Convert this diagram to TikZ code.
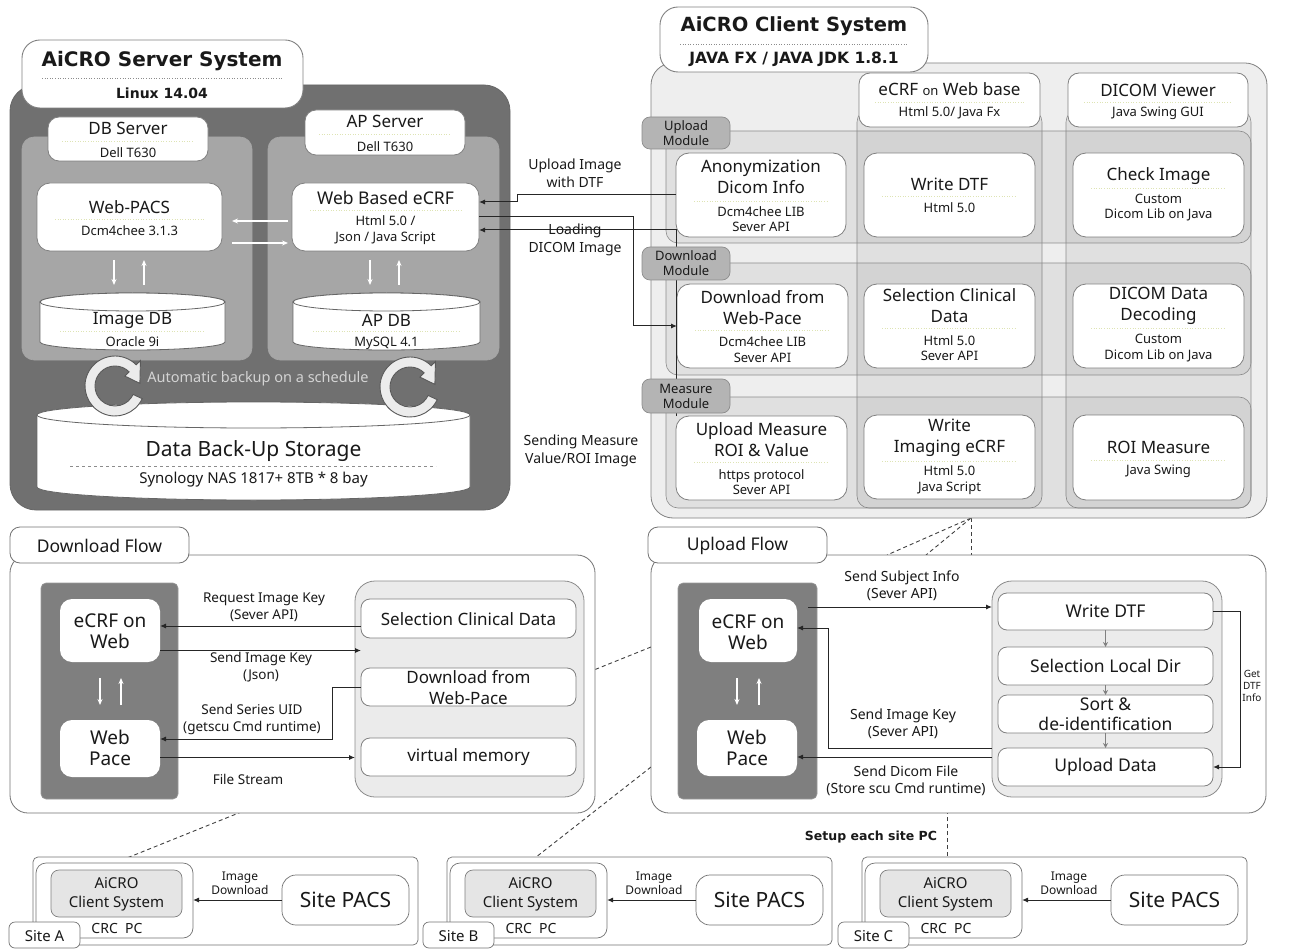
\documentclass[tikz,border=0pt]{standalone}
\usepackage{fontspec}
\setmainfont{Noto Sans}
\newfontfamily\headsans{DejaVu Sans}
\usetikzlibrary{arrows.meta,calc}
\pgfdeclarelayer{background}
\pgfsetlayers{background,main}

\definecolor{srvdark}{RGB}{112,112,112}
\definecolor{srvmid}{RGB}{166,166,166}
\definecolor{edge}{RGB}{128,128,128}
\definecolor{clibg}{RGB}{238,238,238}
\definecolor{tabgray}{RGB}{180,180,180}
\definecolor{flowdark}{RGB}{127,127,127}
\definecolor{flowlight}{RGB}{235,235,235}
\definecolor{sepline}{RGB}{222,228,180}
\definecolor{ringfill}{RGB}{236,236,236}
\definecolor{softtxt}{RGB}{212,212,212}
\definecolor{ink}{RGB}{25,25,25}

% rectangle node given by its corners (x1,y1)-(x2,y2), y growing downwards
\newcommand\boxat[6]{\node[#1,anchor=north west,minimum width={(#5-#3)*1pt},minimum height={(#6-#4)*1pt}] (#2) at (#3,#4) {};}

% database cylinder: x1 x2 top-y top-ry bottom-y bottom-ry
\newcommand\cylinderat[6]{%
  \pgfmathsetmacro\cyA{(#2-#1)/2}\pgfmathsetmacro\cyC{(#1+#2)/2}%
  \filldraw[cylst] (#1,#3) -- (#1,#5) arc[start angle=180,end angle=0,x radius=\cyA,y radius=#6]
     -- (#2,#3) arc[start angle=0,end angle=-180,x radius=\cyA,y radius=#4] -- cycle;
  \draw[cylst] (\cyC,#3) ellipse[x radius=\cyA,y radius=#4];}

% circular backup arrow
\newcommand\ringarrow[2]{%
  \begin{scope}[shift={(#1,#2)}]
    \filldraw[ring] (25:30) arc[start angle=25,end angle=315,radius=30]
      -- (315:36) -- (354:25) -- (315:14) -- (315:20)
      arc[start angle=315,end angle=25,radius=20] -- cycle;
  \end{scope}}

% one hospital site
\newcommand\drawsite[2]{%
  \begin{scope}[xshift=#2pt]
    \boxat{sitebox}{site#1}{33}{857}{418}{945}
    \boxat{crcbox}{crc#1}{36}{863}{193}{938}
    \boxat{clibox}{cl#1}{51}{870}{182}{917}
    \node[tx={15}{19}] (clt#1) at (116.5,894) {AiCRO\\Client System};
    \node[tx={14}{16}] (crct#1) at (117,928) {CRC\ \ PC};
    \boxat{pacsbox}{pacs#1}{282}{875}{409}{925}
    \node[tx={21}{24}] (pacst#1) at (345.5,900) {Site PACS};
    \draw[arr] (pacs#1.west) -- (crc#1.east |- pacs#1.west);
    \node[tx={12}{14}] (imgdl#1) at (240,883) {Image\\Download};
    \boxat{sitetab}{tab#1}{9}{922}{80}{948}
    \node[tx={15}{17}] (tabt#1) at (44.5,936) {Site #1};
  \end{scope}}

\tikzset{
  every node/.append style={inner sep=0pt,outer sep=0pt},
  tx/.style 2 args={align=center,text=ink,font=\fontsize{#1}{#2}\selectfont},
  txb/.style 2 args={align=center,text=ink,font=\headsans\fontsize{#1}{#2}\selectfont\bfseries},
  srvouter/.style={fill=srvdark,draw=black!60,line width=0.8pt,rounded corners=26pt},
  srvpanel/.style={fill=srvmid,draw=black!35,line width=0.6pt,rounded corners=12pt},
  wbox/.style={fill=white,draw=edge,line width=0.8pt,rounded corners=13pt},
  lblbox/.style={fill=white,draw=edge,line width=0.8pt,rounded corners=11pt},
  ttlbox/.style={fill=white,draw=edge,line width=0.9pt,rounded corners=18pt},
  ghost/.style={draw=none,fill=none},
  cylst/.style={fill=white,draw=black!60,line width=0.8pt},
  ring/.style={fill=ringfill,draw=black!65,line width=0.9pt},
  cliouter/.style={fill=clibg,draw=black!50,line width=0.8pt,rounded corners=22pt},
  strip/.style={fill=black,fill opacity=0.055,draw=black!45,line width=0.6pt,rounded corners=12pt},
  modtab/.style={fill=tabgray,draw=black!45,line width=0.7pt,rounded corners=8pt},
  flowouter/.style={fill=white,draw=black!55,line width=0.8pt,rounded corners=18pt},
  flowtab/.style={fill=white,draw=black!55,line width=0.8pt,rounded corners=10pt},
  flowdarkbox/.style={fill=flowdark,draw=black!40,line width=0.6pt,rounded corners=5pt},
  flowpanel/.style={fill=flowlight,draw=black!45,line width=0.8pt,rounded corners=20pt},
  flowitem/.style={fill=white,draw=black!50,line width=0.8pt,rounded corners=9pt},
  innerw/.style={fill=white,draw=none,rounded corners=12pt},
  sitebox/.style={fill=white,draw=black!55,line width=0.7pt,rounded corners=5pt},
  crcbox/.style={fill=white,draw=black!55,line width=0.7pt,rounded corners=10pt},
  clibox/.style={fill=black!10,draw=black!50,line width=0.7pt,rounded corners=8pt},
  pacsbox/.style={fill=white,draw=black!55,line width=0.7pt,rounded corners=14pt},
  sitetab/.style={fill=white,draw=black!55,line width=0.7pt,rounded corners=6pt},
  arr/.style={draw=black!85,line width=1pt,-{Latex[length=6pt,width=5pt]}},
  warr/.style={draw=white,line width=1.1pt,-{Stealth[length=6pt,width=5pt]}},
  garr/.style={draw=black!50,line width=1pt,-{Stealth[length=5pt,width=5pt]}},
  dline/.style={draw=black!75,line width=0.9pt,dash pattern=on 4pt off 3pt},
  sep/.style={draw=sepline,line width=0.6pt,dotted},
  tsep/.style={draw=black!45,line width=0.6pt,dotted},
}

\begin{document}
\begin{tikzpicture}[x=1pt,y=-1pt]
\useasboundingbox (0,0) rectangle (1295,949);

% ================= server system =================
\boxat{srvouter}{srv}{10}{85}{510}{510}
\boxat{srvpanel}{dbp}{22}{137}{252}{360}
\boxat{srvpanel}{app}{268}{137}{499}{360}
\boxat{ttlbox}{srvt}{22}{40}{303}{108}
\node[txb={20}{24}] (srvn) at (162,61) {AiCRO Server System};
\draw[tsep] (42,78) -- (282,78);
\node[txb={14}{17}] (srvos) at (162,93) {Linux 14.04};

\boxat{lblbox}{dbl}{48}{117}{208}{161}
\node[tx={17}{20}] (dbn) at (128,128) {DB Server};
\draw[sep] (62,141) -- (194,141);
\node[tx={13}{15}] (dbhw) at (128,153) {Dell T630};
\boxat{lblbox}{apl}{305}{110}{465}{155}
\node[tx={17}{20}] (apn) at (385,121) {AP Server};
\draw[sep] (319,134) -- (451,134);
\node[tx={13}{15}] (aphw) at (385,147) {Dell T630};

\boxat{wbox}{webpacs}{37}{183}{222}{251}
\node[tx={17}{20}] (wpn) at (129.5,207) {Web-PACS};
\draw[sep] (55,219) -- (204,219);
\node[tx={13}{15}] (wpv) at (129.5,231) {Dcm4chee 3.1.3};
\boxat{wbox}{webecrf}{292}{183}{479}{251}
\node[tx={17.5}{20}] (wen) at (385.5,198) {Web Based eCRF};
\draw[sep] (310,210) -- (461,210);
\node[tx={13}{15.5}] (wev) at (385.5,230) {Html 5.0 /\\Json / Java Script};
\draw[warr] ([xshift=-4pt,yshift=-4pt]webecrf.west) -- ([xshift=10pt,yshift=-4pt]webpacs.east);
\draw[warr] ([xshift=10pt,yshift=-26pt]webpacs.east) -- ([xshift=-4pt,yshift=-26pt]webecrf.west);

\cylinderat{40}{225}{302}{9}{342}{8}
\boxat{ghost}{imgdb}{40}{293}{225}{350}
\node[tx={17}{20}] (idbn) at (132.5,320) {Image DB};
\draw[sep] (60,331) -- (205,331);
\node[tx={13}{15}] (idbv) at (132.5,342) {Oracle 9i};
\cylinderat{293}{480}{302}{9}{342}{8}
\boxat{ghost}{apdb}{293}{293}{480}{350}
\node[tx={17}{20}] (adbn) at (386.5,320) {AP DB};
\draw[sep] (313,331) -- (460,331);
\node[tx={13}{15}] (adbv) at (386.5,343) {MySQL 4.1};

\draw[warr] ([xshift=-15.5pt,yshift=-9pt]webpacs.south) -- ([xshift=-18.5pt,yshift=8pt]imgdb.north);
\draw[warr] ([xshift=11.5pt,yshift=8pt]imgdb.north) -- ([xshift=14.5pt,yshift=-9pt]webpacs.south);
\draw[warr] ([xshift=-15.5pt,yshift=-9pt]webecrf.south) -- ([xshift=-16.5pt,yshift=8pt]apdb.north);
\draw[warr] ([xshift=12.5pt,yshift=8pt]apdb.north) -- ([xshift=13.5pt,yshift=-9pt]webecrf.south);

\cylinderat{37}{470}{415}{13}{487}{13}
\boxat{ghost}{bak}{37}{402}{470}{500}
\node[tx={21}{24}] (bakn) at (253.5,451) {Data Back-Up Storage};
\draw[draw=black!45,line width=0.6pt,dashed] (70,466) -- (436,466);
\node[tx={15}{17}] (bakv) at (253.5,480) {Synology NAS 1817+ 8TB * 8 bay};

\ringarrow{115}{386}
\ringarrow{410}{387}
\node[tx={14.5}{16},text=softtxt] (autob) at (258,379) {Automatic backup on a schedule};

% ================= client system =================
\boxat{cliouter}{cli}{651}{63}{1267}{518}
\boxat{strip}{colB}{857}{110}{1042}{508}
\boxat{strip}{colC}{1066}{110}{1251}{508}
\boxat{strip}{rowU}{666}{131}{1251}{243}
\boxat{strip}{rowD}{666}{263}{1251}{375}
\boxat{strip}{rowM}{666}{397}{1251}{508}
\boxat{ttlbox}{clit}{660}{7}{928}{72}
\node[txb={19.5}{24}] (clin) at (794,26) {AiCRO Client System};
\draw[tsep] (680,44) -- (908,44);
\node[txb={15.5}{18}] (clios) at (794,59) {JAVA FX / JAVA JDK 1.8.1};

\boxat{lblbox}{hdrB}{859}{73}{1040}{127}
\node[tx={17}{20}] (hdrBn) at (949.5,89) {eCRF {\fontsize{13}{15}\selectfont on} Web base};
\draw[sep] (875,102) -- (1024,102);
\node[tx={13}{15}] (hdrBv) at (949.5,113) {Html 5.0/ Java Fx};
\boxat{lblbox}{hdrC}{1068}{73}{1248}{127}
\node[tx={17}{20}] (hdrCn) at (1158,90) {DICOM Viewer};
\draw[sep] (1084,102) -- (1232,102);
\node[tx={13}{15}] (hdrCv) at (1158,113) {Java Swing GUI};

% upload row
\boxat{wbox}{uA}{676}{153}{846}{237}
\node[tx={17}{21}] (uAn) at (761,177) {Anonymization\\Dicom Info};
\draw[sep] (694,201) -- (828,201);
\node[tx={13}{15.5}] (uAv) at (761,219) {Dcm4chee LIB\\Sever API};
\boxat{wbox}{uB}{864}{153}{1035}{237}
\node[tx={17}{20}] (uBn) at (949.5,184) {Write DTF};
\draw[sep] (882,196) -- (1017,196);
\node[tx={13}{15}] (uBv) at (949.5,208) {Html 5.0};
\boxat{wbox}{uC}{1073}{153}{1244}{237}
\node[tx={17}{20}] (uCn) at (1158.5,176) {Check Image};
\draw[sep] (1091,188) -- (1226,188);
\node[tx={13}{15.5}] (uCv) at (1158.5,207.5) {Custom\\Dicom Lib on Java};

% download row
\boxat{wbox}{dA}{677}{284}{848}{368}
\node[tx={17}{21}] (dAn) at (762.5,308) {Download from\\Web-Pace};
\draw[sep] (695,330) -- (830,330);
\node[tx={13}{15.5}] (dAv) at (762.5,349.5) {Dcm4chee LIB\\Sever API};
\boxat{wbox}{dB}{864}{284}{1035}{368}
\node[tx={17}{21}] (dBn) at (949.5,305.5) {Selection Clinical\\Data};
\draw[sep] (882,328) -- (1017,328);
\node[tx={13}{15.5}] (dBv) at (949.5,348) {Html 5.0\\Sever API};
\boxat{wbox}{dC}{1073}{284}{1244}{368}
\node[tx={17}{21}] (dCn) at (1158.5,305.5) {DICOM Data\\Decoding};
\draw[sep] (1091,328) -- (1226,328);
\node[tx={13}{15.5}] (dCv) at (1158.5,348) {Custom\\Dicom Lib on Java};

% measure row
\boxat{wbox}{mA}{676}{416}{847}{500}
\node[tx={17}{21}] (mAn) at (761.5,440) {Upload Measure\\ROI \& Value};
\draw[sep] (694,462) -- (829,462);
\node[tx={13}{15.5}] (mAv) at (761.5,482) {https protocol\\Sever API};
\boxat{wbox}{mB}{864}{415}{1035}{499}
\node[tx={17}{21}] (mBn) at (949.5,438) {Write\\Imaging eCRF};
\draw[sep] (882,461) -- (1017,461);
\node[tx={13}{15.5}] (mBv) at (949.5,480) {Html 5.0\\Java Script};
\boxat{wbox}{mC}{1073}{415}{1244}{500}
\node[tx={17}{20}] (mCn) at (1158.5,447) {ROI Measure};
\draw[sep] (1091,460) -- (1226,460);
\node[tx={13}{15}] (mCv) at (1158.5,471) {Java Swing};

% server <-> client links
\draw[arr] (uA.west) -- ++(-159,0) |- ([yshift=15pt]webecrf.east);
\draw[arr] (webecrf.east) -- ++(154,0) |- (dA.west);
\draw[arr] (mA.north west) |- ([yshift=-13pt]webecrf.east);
\node[tx={14}{18}] (lup) at (575,173) {Upload Image\\with DTF};
\node[tx={14}{18}] (lload) at (575,240) {Loading\\DICOM Image};
\node[tx={14}{18}] (lsend) at (581,451) {Sending Measure\\Value/ROI Image};

% module tabs
\boxat{modtab}{tabU}{642}{117}{730}{149}
\node[tx={13}{15}] (tabUn) at (686,133) {Upload\\Module};
\boxat{modtab}{tabD}{642}{247}{730}{280}
\node[tx={13}{15}] (tabDn) at (686,263.5) {Download\\Module};
\boxat{modtab}{tabM}{642}{379}{730}{413}
\node[tx={13}{15}] (tabMn) at (686,396) {Measure\\Module};

% ================= download flow =================
\boxat{flowouter}{dfo}{10}{555}{595}{813}
\boxat{flowtab}{dft}{10}{527}{189}{563}
\node[tx={17.5}{20}] (dftn) at (99.5,546) {Download Flow};
\boxat{flowdarkbox}{dfd}{41}{583}{178}{799}
\boxat{innerw}{dfe}{60}{599}{160}{662}
\node[tx={19}{21}] (dfen) at (110,631) {eCRF on\\Web};
\boxat{innerw}{dfw}{60}{720}{160}{777}
\node[tx={19}{21}] (dfwn) at (110,748) {Web\\Pace};
\draw[warr] ([xshift=-10pt,yshift=-16pt]dfe.south) -- ([xshift=-10pt,yshift=15pt]dfw.north);
\draw[warr] ([xshift=11pt,yshift=15pt]dfw.north) -- ([xshift=11pt,yshift=-16pt]dfe.south);
\boxat{flowpanel}{dfp}{355}{581}{584}{797}
\boxat{flowitem}{dfs}{361}{599}{576}{638}
\node[tx={17}{20}] (dfsn) at (468.5,619) {Selection Clinical Data};
\boxat{flowitem}{dfl}{361}{668}{576}{706}
\node[tx={17}{21}] (dfln) at (468.5,687.5) {Download from\\Web-Pace};
\boxat{flowitem}{dfv}{361}{738}{576}{776}
\node[tx={17}{20}] (dfvn) at (468.5,757) {virtual memory};
\draw[arr] ([yshift=-7.5pt]dfs.west) -- ([yshift=-7.5pt]dfs.west -| dfe.east);
\draw[arr] ([yshift=-20pt]dfe.east) -- ([yshift=-20pt]dfe.east -| dfs.west);
\draw[arr] (dfl.west) -- ++(-29,0) |- ([yshift=9.5pt]dfw.east);
\draw[arr] ([yshift=-9pt]dfw.east) -- ([yshift=-9pt]dfw.east -| dfp.west);
\node[tx={13.5}{17}] (lreq) at (264,607) {Request Image Key\\(Sever API)};
\node[tx={13.5}{17}] (lsik) at (261,667.5) {Send Image Key\\(Json)};
\node[tx={13.5}{17}] (lsuid) at (252,719) {Send Series UID\\(getscu Cmd runtime)};
\node[tx={13.5}{17}] (lfs) at (248,779) {File Stream};

% ================= upload flow =================
\boxat{flowouter}{ufo}{651}{555}{1266}{813}
\boxat{flowtab}{uft}{648}{527}{827}{563}
\node[tx={17.5}{20}] (uftn) at (737.5,546) {Upload Flow};
\boxat{flowdarkbox}{ufd}{678}{583}{817}{799}
\boxat{innerw}{ufe}{699}{599}{797}{662}
\node[tx={19}{21}] (ufen) at (748,632) {eCRF on\\Web};
\boxat{innerw}{ufw}{697}{720}{797}{776}
\node[tx={19}{21}] (ufwn) at (747,748) {Web\\Pace};
\draw[warr] ([xshift=-11pt,yshift=-16pt]ufe.south) -- ([xshift=-10pt,yshift=15pt]ufw.north);
\draw[warr] ([xshift=12pt,yshift=15pt]ufw.north) -- ([xshift=11pt,yshift=-16pt]ufe.south);
\boxat{flowpanel}{ufp}{992}{581}{1222}{797}
\boxat{flowitem}{us1}{998}{593}{1213}{630}
\node[tx={17.5}{20}] (us1n) at (1105.5,611.5) {Write DTF};
\boxat{flowitem}{us2}{998}{647}{1213}{685}
\node[tx={17.5}{20}] (us2n) at (1105.5,666) {Selection Local Dir};
\boxat{flowitem}{us3}{998}{695}{1213}{733}
\node[tx={17.5}{20}] (us3n) at (1105.5,714) {Sort \&\\de-identification};
\boxat{flowitem}{us4}{998}{748}{1213}{786}
\node[tx={17.5}{20}] (us4n) at (1105.5,767) {Upload Data};
\draw[garr] (us1.south) -- (us2.north);
\draw[garr] (us2.south) -- (us3.north);
\draw[garr] (us3.south) -- (us4.north);
\draw[arr] (us1.east) -- ++(27,0) |- (us4.east);
\node[tx={10}{12}] (getdtf) at (1252,686) {Get\\DTF\\Info};
\draw[arr] ([xshift=11pt,yshift=23.5pt]ufe.east) -- ([yshift=23.5pt]ufe.east -| ufp.west);
\draw[arr] ([yshift=-59pt]ufp.west) -- ++(-164,0) |- ([yshift=2.5pt]ufe.east);
\draw[arr] ([yshift=-68pt]ufp.west) -- ([yshift=-68pt]ufp.west -| ufw.east);
\node[tx={14}{17}] (lssi) at (902,586) {Send Subject Info\\(Sever API)};
\node[tx={14}{17}] (lusik) at (903,724) {Send Image Key\\(Sever API)};
\node[tx={14}{17}] (lsdf) at (906,780.5) {Send Dicom File\\(Store scu Cmd runtime)};

\node[txb={12.5}{15}] (setup) at (871,837) {Setup each site PC};

% ================= sites =================
\drawsite{A}{0}
\drawsite{B}{414}
\drawsite{C}{829}

% ================= deployment links =================
\begin{pgfonlayer}{background}
  \draw[dline] ([xshift=12pt]cli.south) -- ([xshift=-71.5pt]ufo.north);
  \draw[dline] ([xshift=12pt]cli.south) -- ([xshift=-32.5pt]ufo.north);
  \draw[dline] ([xshift=12pt]cli.south) -- ([xshift=12.5pt]ufo.north);
  \draw[dline] ([yshift=37pt]ufo.west) -- (crcA.north);
  \draw[dline] ([yshift=-83pt]ufo.west) -- (crcB.north);
  \path ([xshift=3.5pt]crcC.north) coordinate (cTop);
  \draw[dline] (cTop) -- (cTop |- ufo.south);
\end{pgfonlayer}
\end{tikzpicture}
\end{document}
